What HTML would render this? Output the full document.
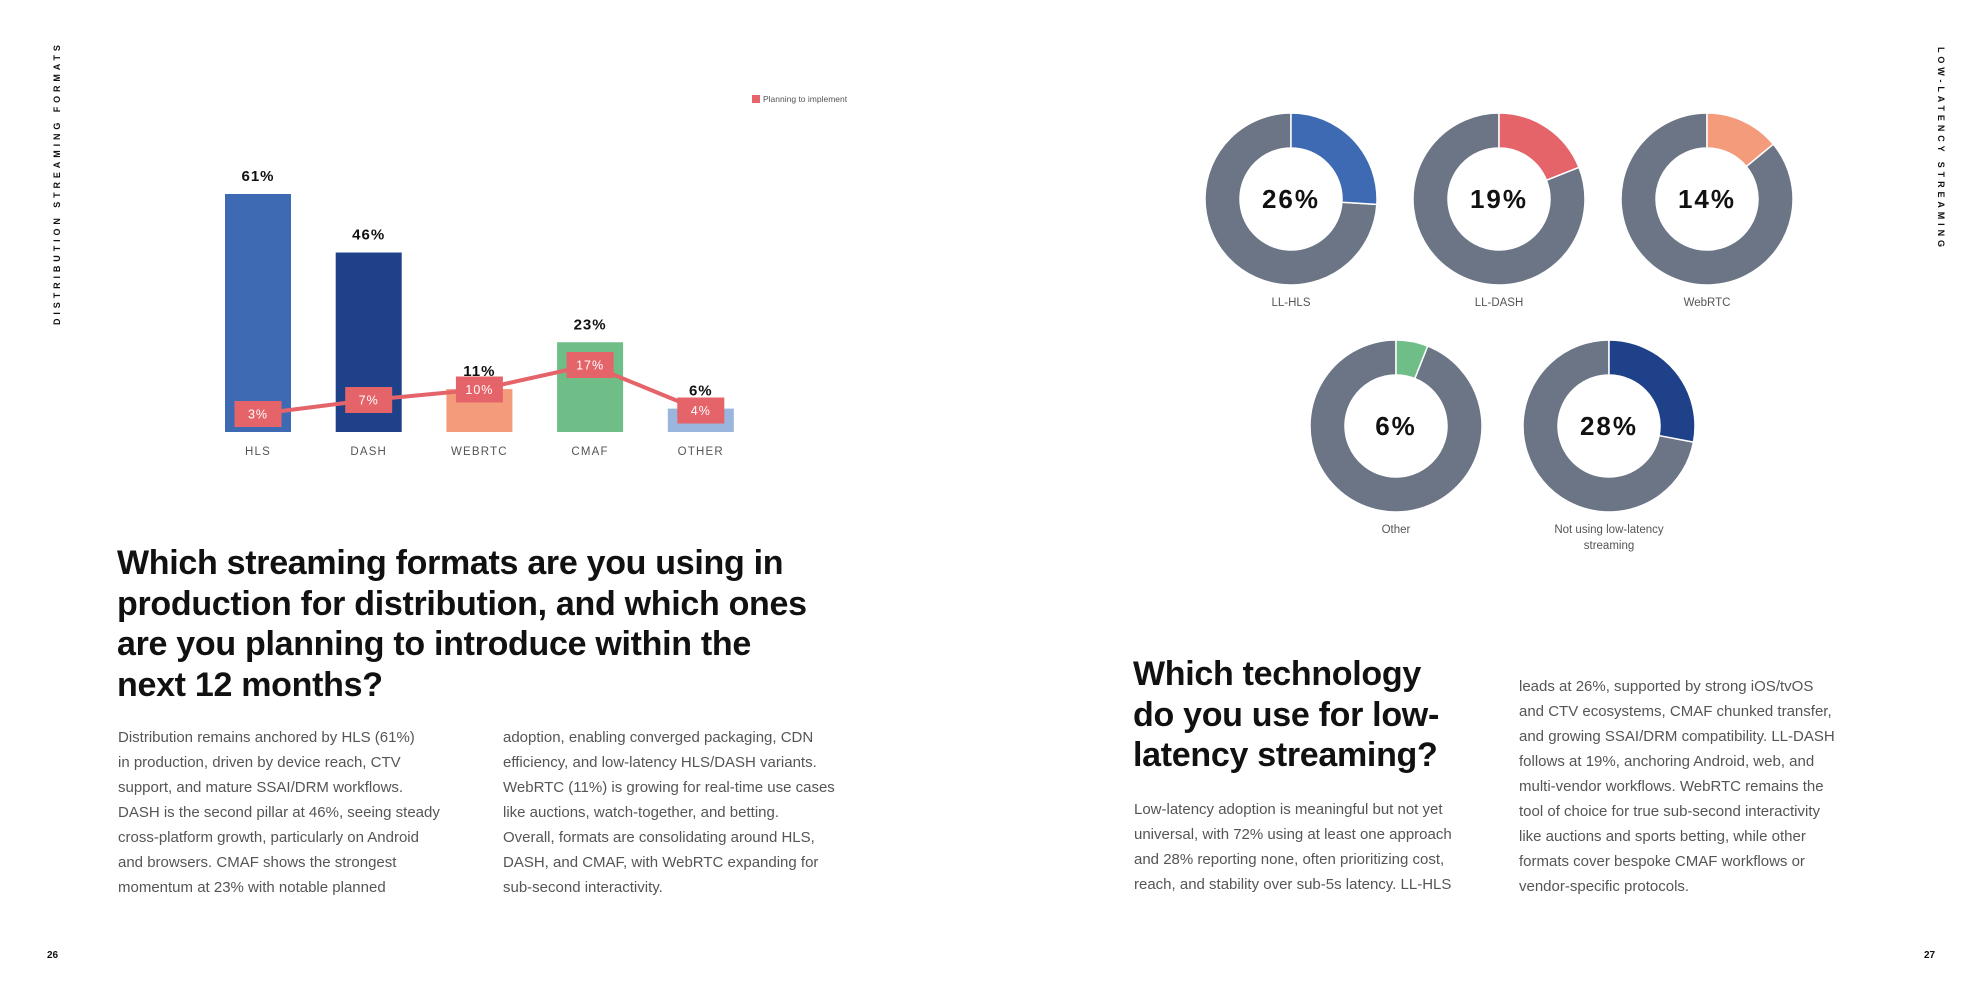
<!DOCTYPE html>
<html><head><meta charset="utf-8">
<style>
*{margin:0;padding:0;box-sizing:border-box}
body{width:1984px;height:992px;background:#fff;position:relative;overflow:hidden;font-family:"Liberation Sans",sans-serif;color:#111}
.abs{position:absolute;white-space:nowrap}
.h{font-weight:bold;font-size:34px;line-height:40.5px;color:#111;letter-spacing:-0.3px}
.p{font-size:15px;line-height:25px;color:#555}
.side{font-weight:bold;font-size:9px;letter-spacing:3.9px;color:#111}
</style></head><body>
<div class="abs side" style="left:52px;top:325px;transform-origin:0 0;transform:rotate(-90deg)">DISTRIBUTION STREAMING FORMATS</div>
<div class="abs side" style="left:1946px;top:47px;transform-origin:0 0;transform:rotate(90deg)">LOW-LATENCY STREAMING</div>
<div class="abs" style="left:47px;top:950px;font-size:10px;font-weight:bold">26</div>
<div class="abs" style="left:1924px;top:950px;font-size:10px;font-weight:bold">27</div>

<svg id="bar" class="abs" style="left:0;top:0" width="900" height="480"></svg>
<svg id="donuts" class="abs" style="left:1150px;top:0" width="700" height="580"></svg>

<div class="abs h" style="left:117px;top:543px">Which streaming formats are you using in<br>production for distribution, and which ones<br>are you planning to introduce within the<br>next 12 months?</div>
<div class="abs p" style="left:118px;top:725px">Distribution remains anchored by HLS (61%)<br>in production, driven by device reach, CTV<br>support, and mature SSAI/DRM workflows.<br>DASH is the second pillar at 46%, seeing steady<br>cross-platform growth, particularly on Android<br>and browsers. CMAF shows the strongest<br>momentum at 23% with notable planned</div>
<div class="abs p" style="left:503px;top:725px">adoption, enabling converged packaging, CDN<br>efficiency, and low-latency HLS/DASH variants.<br>WebRTC (11%) is growing for real-time use cases<br>like auctions, watch-together, and betting.<br>Overall, formats are consolidating around HLS,<br>DASH, and CMAF, with WebRTC expanding for<br>sub-second interactivity.</div>

<div class="abs h" style="left:1133px;top:654px">Which technology<br>do you use for low-<br>latency streaming?</div>
<div class="abs p" style="left:1134px;top:797px">Low-latency adoption is meaningful but not yet<br>universal, with 72% using at least one approach<br>and 28% reporting none, often prioritizing cost,<br>reach, and stability over sub-5s latency. LL-HLS</div>
<div class="abs p" style="left:1519px;top:674px">leads at 26%, supported by strong iOS/tvOS<br>and CTV ecosystems, CMAF chunked transfer,<br>and growing SSAI/DRM compatibility. LL-DASH<br>follows at 19%, anchoring Android, web, and<br>multi-vendor workflows. WebRTC remains the<br>tool of choice for true sub-second interactivity<br>like auctions and sports betting, while other<br>formats cover bespoke CMAF workflows or<br>vendor-specific protocols.</div>

<script>
const categories=["HLS","DASH","WEBRTC","CMAF","OTHER"];
const productionValues=[61,46,11,23,6];
const planningValues=[3,7,10,17,4];
const barColors=["#3D6AB3","#1F4189","#F39B7A","#6FBD87","#9AB5DE"];
const donutLabels=["LL-HLS","LL-DASH","WebRTC","Other","Not using low-latency|streaming"];
const donutValues=[26,19,14,6,28];
const donutColors=["#3D6AB3","#E5646A","#F39B7A","#6FBD87","#1F4189"];

const NS="http://www.w3.org/2000/svg";
function mk(parent,tag,attrs,text){const e=document.createElementNS(NS,tag);for(const k in attrs)e.setAttribute(k,attrs[k]);if(text!==undefined)e.textContent=text;parent.appendChild(e);return e;}

// bar chart
const bar=document.getElementById('bar');
const baseY=432, pxPer=238/61, x0=225, pitch=110.7, bw=66;
const xPos=i=>x0+i*pitch;
const yBar=v=>baseY-v*pxPer;
const yPlan=v=>424.5-v*3.5;
categories.forEach((c,i)=>{
  const r=mk(bar,'rect',{x:xPos(i),y:yBar(productionValues[i]),width:bw,height:baseY-yBar(productionValues[i]),fill:barColors[i]});
  
  
  const t=mk(bar,'text',{x:xPos(i)+bw/2,y:yBar(productionValues[i])-13,'text-anchor':'middle','font-size':'15','font-weight':'bold',fill:'#111','letter-spacing':'1'},productionValues[i]+'%');
  
  
  const l=mk(bar,'text',{x:xPos(i)+bw/2,y:455,'text-anchor':'middle','font-size':'11.5',fill:'#555','letter-spacing':'1.2'},c);
  
  
});
const pts=planningValues.map((v,i)=>(xPos(i)+bw/2)+','+yPlan(v)).join(' ');
const pl=mk(bar,'polyline',{points:pts,fill:'none',stroke:'#E5646A','stroke-width':'4'});


planningValues.forEach((v,i)=>{
  const cx=xPos(i)+bw/2, cy=yPlan(v);
  const b=mk(bar,'rect',{x:cx-23.5,y:cy-13,width:47,height:26,fill:'#E5646A'});
  
  
  const t=mk(bar,'text',{x:cx,y:cy+4.5,'text-anchor':'middle','font-size':'12.5',fill:'#fff','letter-spacing':'1'},v+'%');
  
  
});
const lg=mk(bar,'rect',{x:752,y:95,width:8,height:8,fill:'#E5646A'});


const lt=mk(bar,'text',{x:763,y:102,'font-size':'8.5',fill:'#555'},'Planning to implement');



// donuts
const dn=document.getElementById('donuts');
const centers=[[141,199],[349,199],[557,199],[246,426],[459,426]];
const R=86, r0=51;
function arc(cx,cy,a0,a1){
  const p=(a,rad)=>[cx+rad*Math.sin(a),cy-rad*Math.cos(a)];
  const large=(a1-a0)>Math.PI?1:0;
  const [x1,y1]=p(a0,R),[x2,y2]=p(a1,R),[x3,y3]=p(a1,r0),[x4,y4]=p(a0,r0);
  return `M${x1},${y1} A${R},${R} 0 ${large} 1 ${x2},${y2} L${x3},${y3} A${r0},${r0} 0 ${large} 0 ${x4},${y4} Z`;
}
donutValues.forEach((v,i)=>{
  const [cx,cy]=centers[i];
  const a=v/100*2*Math.PI;
  const g=mk(dn,'path',{d:arc(cx,cy,a,2*Math.PI-0.0001),fill:'#6B7586',stroke:'#fff','stroke-width':'1.5'});
  
  
  const s=mk(dn,'path',{d:arc(cx,cy,0,a),fill:donutColors[i],stroke:'#fff','stroke-width':'1.5'});
  
  
  const t=mk(dn,'text',{x:cx,y:cy+9,'text-anchor':'middle','font-size':'26','font-weight':'bold',fill:'#111','letter-spacing':'2'},v+'%');
  
  
  donutLabels[i].split('|').forEach((ln,j)=>{
    const l=mk(dn,'text',{x:cx,y:cy+107+j*16,'text-anchor':'middle','font-size':'11.5',fill:'#555'},ln);
    
    
  });
});
</script>
</body></html>
